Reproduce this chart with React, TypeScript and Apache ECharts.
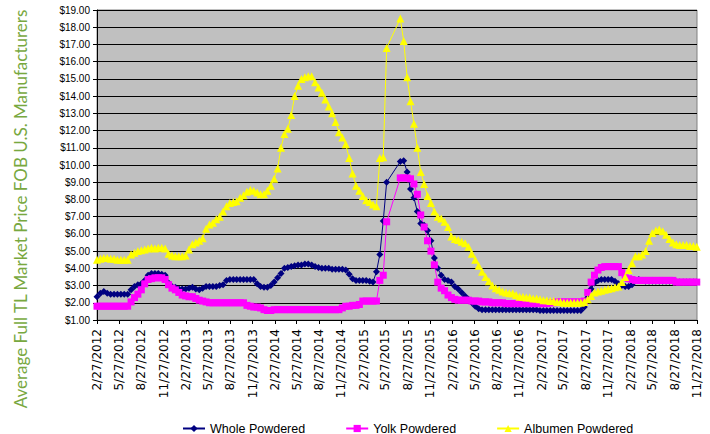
import React, { useEffect, useRef } from "react";
import * as echarts from "echarts";

const dates: string[] = [
  "2012-02-27","2012-03-12","2012-03-26","2012-04-09","2012-04-23","2012-05-07","2012-05-21","2012-06-04","2012-06-18","2012-07-02","2012-07-16","2012-07-30","2012-08-13","2012-08-27","2012-09-10","2012-09-24","2012-10-08","2012-10-22","2012-11-05","2012-11-19","2012-12-03","2012-12-17","2012-12-31",
  "2013-01-14","2013-01-28","2013-02-11","2013-02-25","2013-03-11","2013-03-25","2013-04-08","2013-04-22","2013-05-06","2013-05-20","2013-06-03","2013-06-17","2013-07-01","2013-07-15","2013-07-29","2013-08-12","2013-08-26","2013-09-09","2013-09-23","2013-10-07","2013-10-21","2013-11-04","2013-11-18","2013-12-02","2013-12-16","2013-12-30",
  "2014-01-13","2014-01-27","2014-02-10","2014-02-24","2014-03-10","2014-03-24","2014-04-07","2014-04-21","2014-05-05","2014-05-19","2014-06-02","2014-06-16","2014-06-30","2014-07-14","2014-07-28","2014-08-11","2014-08-25","2014-09-08","2014-09-22","2014-10-06","2014-10-20","2014-11-03","2014-11-17","2014-12-01","2014-12-15","2014-12-29",
  "2015-01-12","2015-01-26","2015-02-09","2015-02-23","2015-03-09","2015-03-23","2015-04-06","2015-04-20","2015-05-04","2015-05-18","2015-06-01","2015-06-15","2015-06-29","2015-07-13","2015-07-27","2015-08-10","2015-08-24","2015-09-07","2015-09-21","2015-10-05","2015-10-19","2015-11-02","2015-11-16","2015-11-30","2015-12-14","2015-12-28",
  "2016-01-11","2016-01-25","2016-02-08","2016-02-22","2016-03-07","2016-03-21","2016-04-04","2016-04-18","2016-05-02","2016-05-16","2016-05-30","2016-06-13","2016-06-27","2016-07-11","2016-07-25","2016-08-08","2016-08-22","2016-09-05","2016-09-19","2016-10-03","2016-10-17","2016-10-31","2016-11-14","2016-11-28","2016-12-12","2016-12-26",
  "2017-01-09","2017-01-23","2017-02-06","2017-02-20","2017-03-06","2017-03-20","2017-04-03","2017-04-17","2017-05-01","2017-05-15","2017-05-29","2017-06-12","2017-06-26","2017-07-10","2017-07-24","2017-08-07","2017-08-21","2017-09-04","2017-09-18","2017-10-02","2017-10-16","2017-10-30","2017-11-13","2017-11-27","2017-12-11","2017-12-25",
  "2018-01-08","2018-01-22","2018-02-05","2018-02-19","2018-03-05","2018-03-19","2018-04-02","2018-04-16","2018-04-30","2018-05-14","2018-05-28","2018-06-11","2018-06-25","2018-07-09","2018-07-23","2018-08-06","2018-08-20","2018-09-03","2018-09-17","2018-10-01","2018-10-15","2018-10-29","2018-11-12","2018-11-26",
];

const wholePowdered: (number | null)[] = [
  2.35,2.55,2.65,2.55,2.5,2.5,2.5,2.5,2.5,2.5,
  2.75,2.95,3.05,3.1,3.3,3.6,3.7,3.7,3.7,3.65,
  3.6,3.15,2.95,2.9,2.8,2.8,2.8,2.85,2.9,2.8,
  2.75,2.85,2.95,2.95,2.95,2.95,3.0,3.05,3.3,3.35,
  3.35,3.35,3.35,3.35,3.35,3.35,3.35,3.1,2.95,2.9,
  2.9,3.0,3.2,3.45,3.7,4.0,4.05,4.1,4.15,4.2,
  4.2,4.25,4.25,4.2,4.1,4.05,4.0,4.0,4.0,3.95,
  3.95,3.95,3.95,3.9,3.65,3.4,3.3,3.3,3.3,3.3,
  3.25,3.2,3.8,4.8,6.75,9.0,null,null,null,10.2,
  10.25,9.6,8.6,8.1,7.3,6.6,6.5,6.2,5.6,4.6,
  4.0,3.6,3.35,3.3,3.2,2.95,2.8,2.6,2.4,2.2,
  2.0,1.8,1.65,1.6,1.6,1.6,1.6,1.6,1.6,1.6,
  1.6,1.6,1.6,1.6,1.6,1.6,1.6,1.6,1.6,1.6,
  1.55,1.55,1.55,1.55,1.55,1.55,1.55,1.55,1.55,1.55,
  1.55,1.55,1.55,1.75,2.3,2.8,3.15,3.3,3.35,3.35,
  3.35,3.35,3.25,3.1,3.0,2.95,2.95,3.05,3.3,3.35,
  3.3,3.25,3.25,3.25,3.25,3.25,3.25,3.25,3.25,3.25,
  3.2,3.2,3.2,3.2,3.2,3.2,3.2,
];

const yolkPowdered: (number | null)[] = [
  1.8,1.8,1.8,1.8,1.8,1.8,1.8,1.8,1.8,1.8,
  2.05,2.3,2.5,2.75,3.1,3.35,3.4,3.45,3.45,3.45,
  3.35,3.05,2.85,2.75,2.6,2.45,2.4,2.35,2.35,2.25,
  2.15,2.1,2.05,2.0,2.0,2.0,2.0,2.0,2.0,2.0,
  2.0,2.0,2.0,2.0,1.85,1.8,1.75,1.75,1.7,1.6,
  1.55,1.55,1.6,1.6,1.6,1.6,1.6,1.6,1.6,1.6,
  1.6,1.6,1.6,1.6,1.6,1.6,1.6,1.6,1.6,1.6,
  1.6,1.6,1.7,1.8,1.8,1.85,1.85,1.9,2.1,2.1,
  2.1,2.1,2.1,3.3,3.6,6.7,null,null,null,9.25,
  9.25,9.25,9.2,8.9,8.3,7.1,6.4,5.6,5.0,4.2,
  3.2,2.85,2.7,2.45,2.3,2.2,2.15,2.15,2.15,2.15,
  2.1,2.1,2.1,2.05,2.05,2.05,2.0,2.0,2.0,2.0,
  1.95,1.95,1.95,1.95,1.95,1.95,1.95,1.95,1.95,1.95,
  1.95,1.95,1.95,2.0,2.0,2.05,2.05,2.05,2.05,2.05,
  2.05,2.05,2.05,2.1,2.6,3.2,3.6,3.9,4.05,4.1,
  4.1,4.1,4.1,4.1,3.75,3.45,3.4,3.35,3.3,3.3,
  3.3,3.3,3.3,3.3,3.3,3.3,3.3,3.3,3.3,3.3,
  3.2,3.2,3.2,3.2,3.2,3.2,3.2,
];

const albumenPowdered: (number | null)[] = [
  4.5,4.55,4.6,4.6,4.55,4.55,4.5,4.5,4.5,4.5,
  4.8,4.9,5.0,5.05,5.1,5.15,5.2,5.15,5.2,5.2,
  5.15,4.85,4.75,4.7,4.7,4.7,4.75,5.1,5.4,5.5,
  5.6,5.75,6.3,6.55,6.65,6.85,7.0,7.3,7.6,7.8,
  7.85,7.9,8.1,8.25,8.45,8.55,8.5,8.4,8.3,8.3,
  8.5,8.8,9.2,9.8,11.0,11.8,12.1,12.9,14.0,14.6,
  15.0,15.1,15.15,15.15,14.8,14.5,14.2,13.8,13.4,13.0,
  12.5,11.9,11.6,11.2,10.4,9.5,8.8,8.5,8.2,7.95,
  7.85,7.7,7.6,10.4,10.45,16.8,null,null,null,18.5,
  17.2,15.1,13.7,12.4,11.0,9.6,8.9,8.2,7.8,7.3,
  7.0,6.9,6.7,6.4,5.85,5.7,5.65,5.55,5.45,5.25,
  4.85,4.5,4.15,3.8,3.5,3.25,3.0,2.85,2.75,2.65,
  2.6,2.55,2.55,2.45,2.35,2.35,2.3,2.3,2.25,2.25,
  2.2,2.15,2.15,2.1,2.1,2.05,2.05,2.0,2.0,2.0,
  2.0,2.0,2.0,2.05,2.2,2.4,2.6,2.65,2.7,2.75,
  2.8,2.85,2.9,2.95,3.2,3.5,3.9,4.3,4.7,4.7,
  4.8,5.0,5.6,6.05,6.2,6.25,6.15,5.95,5.7,5.5,
  5.4,5.35,5.35,5.35,5.3,5.3,5.25,
];

const tickDates: string[] = [
  "2012-02-27","2012-05-27","2012-08-27","2012-11-27",
  "2013-02-27","2013-05-27","2013-08-27","2013-11-27",
  "2014-02-27","2014-05-27","2014-08-27","2014-11-27",
  "2015-02-27","2015-05-27","2015-08-27","2015-11-27",
  "2016-02-27","2016-05-27","2016-08-27","2016-11-27",
  "2017-02-27","2017-05-27","2017-08-27","2017-11-27",
  "2018-02-27","2018-05-27","2018-08-27","2018-11-27",
];

const seriesNames = ["Whole Powdered", "Yolk Powdered", "Albumen Powdered"];
const yTitle = "Average Full TL Market Price FOB U.S. Manufacturers";

const ts = (d: string) => Date.parse(d + "T00:00:00Z");
const fmtDate = (v: number) => {
  const d = new Date(v);
  return `${d.getUTCMonth() + 1}/${d.getUTCDate()}/${d.getUTCFullYear()}`;
};

export default function App() {
  const ref = useRef<HTMLDivElement>(null);
  useEffect(() => {
    if (!ref.current) return;
    const chart = echarts.init(ref.current, undefined, { renderer: "svg" });
    const tickTs = tickDates.map(ts);
    const mk = (vals: (number | null)[]) => dates.map((d, i) => [ts(d), vals[i] === null ? "-" : vals[i]]);
    const font = "Liberation Sans, Arial, sans-serif";
    chart.setOption({
      animation: false,
      backgroundColor: "#ffffff",
      textStyle: { fontFamily: font },
      grid: {
        left: 97, right: 13, top: 10, bottom: 114,
        show: true, backgroundColor: "#C0C0C0", borderColor: "#808080", borderWidth: 1,
      },
      xAxis: {
        type: "value",
        min: ts("2012-02-27"),
        max: ts("2018-11-27"),
        splitLine: { show: false },
        axisLine: { show: true, lineStyle: { color: "#000", width: 1 } },
        axisTick: { show: true, customValues: tickTs, length: 4, lineStyle: { color: "#000" } },
        axisLabel: {
          customValues: tickTs,
          rotate: 90,
          formatter: (v: number) => fmtDate(v),
          fontSize: 12,
          fontFamily: "DejaVu Sans",
          color: "#000",
          margin: 9,
        },
      },
      yAxis: {
        type: "value",
        min: 1, max: 19, interval: 1,
        axisLine: { show: true, lineStyle: { color: "#000", width: 1 } },
        axisTick: { show: true, length: 4, lineStyle: { color: "#000" } },
        splitLine: { show: true, lineStyle: { color: "#000", width: 1 } },
        axisLabel: {
          formatter: (v: number) => "$" + v.toFixed(2),
          fontSize: 10, fontFamily: font, color: "#000", margin: 7,
        },
      },
      legend: {
        data: seriesNames,
        left: 177, top: 417,
        itemWidth: 22, itemHeight: 9, itemGap: 40,
        textStyle: { fontSize: 12.5, fontFamily: font, color: "#000" },
      },
      graphic: [
        {
          type: "text",
          x: 20, y: 209,
          rotation: Math.PI / 2,
          style: {
            text: yTitle,
            fill: "#78A83F",
            font: "17px Lato",
            align: "center",
            verticalAlign: "middle",
          },
        },
      ],
      series: [
        {
          name: seriesNames[0], type: "line", data: mk(wholePowdered), connectNulls: true,
          symbol: "diamond", symbolSize: 7, showAllSymbol: true,
          lineStyle: { color: "#000080", width: 1 }, itemStyle: { color: "#000080" },
        },
        {
          name: seriesNames[1], type: "line", data: mk(yolkPowdered), connectNulls: true,
          symbol: "rect", symbolSize: 7, showAllSymbol: true,
          lineStyle: { color: "#FF00FF", width: 1 }, itemStyle: { color: "#FF00FF" },
        },
        {
          name: seriesNames[2], type: "line", data: mk(albumenPowdered), connectNulls: true,
          symbol: "triangle", symbolSize: 8, showAllSymbol: true,
          lineStyle: { color: "#FFFF00", width: 1 }, itemStyle: { color: "#FFFF00" },
        },
      ],
    });
    return () => chart.dispose();
  }, []);
  return <div ref={ref} style={{ position: "fixed", left: 0, top: 0, width: 710, height: 434 }} />;
}
